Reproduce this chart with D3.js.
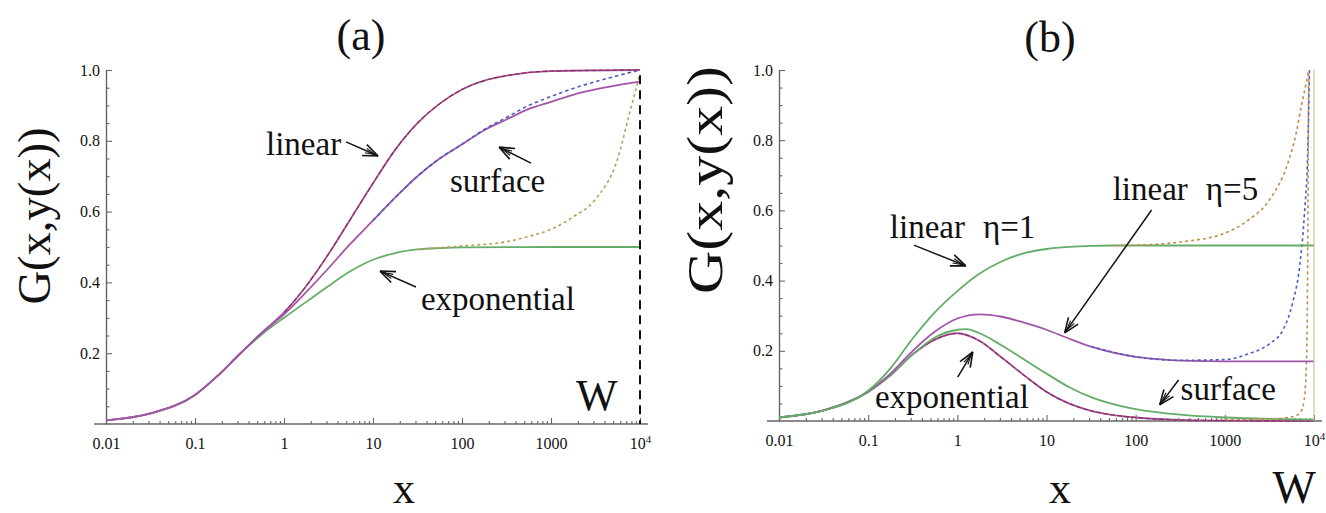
<!DOCTYPE html>
<html><head><meta charset="utf-8">
<script src="https://cdn.jsdelivr.net/npm/d3@7"></script>
<style>
body{margin:0;background:#fff}
svg{display:block}
text{font-family:"Liberation Serif","Times New Roman",serif;fill:#111}
</style>
</head><body>
<svg id="c" width="1326" height="513"></svg>
<script>
// ---- tick data ----
const xTicks = [0.01, 0.1, 1, 10, 100, 1000, 10000];
const xTickLabels = ["0.01", "0.1", "1", "10", "100", "1000", "10^4"];
const yTicks = [0.2, 0.4, 0.6, 0.8, 1.0];
const yTickLabels = ["0.2", "0.4", "0.6", "0.8", "1.0"];

// ---- panel (a) series: [x, G] ----
const linearA = [[0.01,0.01],[0.0316,0.03],[0.1,0.082],[0.178,0.135],[0.316,0.197],[0.562,0.258],[1,0.315],[1.78,0.39],[3.16,0.48],[5.62,0.58],[10,0.68],[17.8,0.775],[31.6,0.85],[56.2,0.905],[100,0.945],[178,0.97],[316,0.984],[1000,0.997],[10000,1.0]];
const surfaceA = [[0.01,0.01],[0.0316,0.03],[0.1,0.082],[0.178,0.135],[0.316,0.197],[0.562,0.257],[1,0.31],[1.78,0.373],[3.16,0.44],[5.62,0.51],[10,0.575],[17.8,0.64],[31.6,0.70],[56.2,0.75],[100,0.79],[178,0.83],[316,0.86],[562,0.89],[1000,0.91],[1778,0.93],[3162,0.945],[5623,0.957],[10000,0.967]];
const surfaceDotA = [[10,0.575],[17.8,0.64],[31.6,0.70],[56.2,0.75],[100,0.79],[178,0.832],[316,0.866],[562,0.9],[1000,0.925],[1778,0.948],[3162,0.967],[5623,0.984],[10000,1.0]];
const expA = [[0.01,0.01],[0.0316,0.03],[0.1,0.082],[0.178,0.135],[0.316,0.197],[0.562,0.253],[1,0.30],[1.78,0.345],[3.16,0.39],[5.62,0.432],[10,0.464],[17.8,0.483],[31.6,0.493],[56.2,0.497],[100,0.499],[1000,0.5],[10000,0.5]];
const expDotA = [[31.6,0.493],[100,0.503],[316,0.515],[562,0.53],[1000,0.55],[1778,0.585],[3162,0.635],[5623,0.75],[7500,0.87],[10000,0.99]];

// ---- panel (b) series ----
const linear1B = [[0.01,0.01],[0.0316,0.03],[0.1,0.086],[0.178,0.15],[0.316,0.235],[0.562,0.31],[1,0.37],[1.78,0.42],[3.16,0.455],[5.62,0.478],[10,0.49],[17.8,0.496],[31.6,0.499],[56.2,0.5],[10000,0.5]];
const linear1DotB = [[56.2,0.5],[100,0.501],[316,0.51],[1000,0.535],[1778,0.57],[3162,0.63],[5012,0.73],[6310,0.82],[7244,0.9],[8128,0.96],[8710,1.0]];
const linear5B = [[0.01,0.01],[0.0316,0.03],[0.1,0.084],[0.178,0.135],[0.316,0.2],[0.562,0.255],[1,0.292],[1.78,0.304],[3.16,0.297],[5.62,0.28],[10,0.26],[17.8,0.235],[31.6,0.212],[56.2,0.195],[100,0.183],[178,0.176],[316,0.172],[1000,0.17],[10000,0.17]];
const linear5DotB = [[31.6,0.212],[100,0.183],[316,0.173],[1000,0.175],[1778,0.19],[3162,0.22],[4500,0.26],[5750,0.336],[6900,0.44],[7760,0.58],[8500,0.77],[8900,1.0]];
const surfaceB = [[0.01,0.01],[0.0316,0.03],[0.1,0.083],[0.178,0.13],[0.316,0.19],[0.562,0.238],[1,0.26],[1.26,0.262],[1.78,0.25],[3.16,0.215],[5.62,0.175],[10,0.135],[17.8,0.097],[31.6,0.068],[56.2,0.048],[100,0.034],[316,0.018],[1000,0.01],[3162,0.006],[10000,0.004]];
const expB = [[0.01,0.01],[0.0316,0.03],[0.1,0.083],[0.178,0.13],[0.316,0.19],[0.562,0.232],[1,0.25],[1.78,0.228],[3.16,0.18],[5.62,0.13],[10,0.083],[17.8,0.05],[31.6,0.029],[56.2,0.017],[100,0.01],[316,0.003],[1000,0.001],[10000,0.0]];
const lowDotB = [[1000,0.004],[3162,0.006],[5012,0.01],[6310,0.015],[7080,0.025],[7762,0.06],[8300,0.2],[8710,1.0]];

// ---- annotations (data coordinates) ----
const annA = [
  {text:"linear", at:[0.628,0.76], from:[4.98,0.797], to:[11.4,0.757]},
  {text:"surface", at:[73.3,0.655], from:[596,0.737], to:[261,0.782]},
  {text:"exponential", at:[34.6,0.322], from:[30.4,0.387], to:[12.0,0.432]}
];
const annB = [
  {text:"linear", eta:"η=1", at:[0.175,0.521], from:[0.326,0.501], to:[1.245,0.442]},
  {text:"linear", eta:"η=5", at:[55.2,0.63], from:[151,0.601], to:[16.0,0.251]},
  {text:"exponential", at:[0.119,0.037], from:[1.01,0.125], to:[1.49,0.197]},
  {text:"surface", at:[319,0.06], from:[303,0.117], to:[186,0.046]}
];

const C = {purple:"#a355a8", maroon:"#8a2e4a", green:"#63ad68", blue:"#4a5cc0", tanA:"#b5a055", tanB:"#c48c4c"};

const svg = d3.select("#c");

function minorTicks(){
  const m=[];
  for(let e=-2;e<4;e++) for(let k=2;k<10;k++) m.push(k*Math.pow(10,e));
  return m;
}
function yMinor(){ const m=[]; for(let i=1;i<20;i++){ if(i%4!==0) m.push(i*0.05);} return m; }

function drawPanel(cfg){
  const g = svg.append("g");
  const x = d3.scaleLog().domain([0.01,10000]).range(cfg.xr);
  const y = d3.scaleLinear().domain([0,1]).range(cfg.yr);
  const y0 = cfg.yr[0];

  const xa = g.append("g").attr("transform",`translate(0,${y0})`)
    .call(d3.axisBottom(x).tickValues(xTicks).tickSize(-6).tickSizeOuter(0).tickPadding(14)
      .tickFormat((d,i)=>xTickLabels[i]));
  xa.select(".domain").remove();
  g.append("g").attr("transform",`translate(0,${y0})`)
    .call(d3.axisBottom(x).tickValues(minorTicks()).tickSize(-3).tickFormat(""))
    .select(".domain").remove();
  g.append("line").attr("x1",cfg.xr[0]-12).attr("x2",cfg.xr[1]+8).attr("y1",y0).attr("y2",y0)
    .attr("stroke","#666").attr("stroke-width",1.4);

  g.append("g").attr("transform",`translate(${cfg.xr[0]},0)`)
    .call(d3.axisLeft(y).tickValues(yTicks).tickSize(-6).tickSizeOuter(0).tickPadding(6)
      .tickFormat((d,i)=>yTickLabels[i]));
  g.append("g").attr("transform",`translate(${cfg.xr[0]},0)`)
    .call(d3.axisLeft(y).tickValues(yMinor()).tickSize(-3.5).tickFormat(""))
    .select(".domain").remove();

  g.selectAll(".tick line").attr("stroke","#666").attr("stroke-width",1.1);
  g.selectAll(".domain").attr("stroke","#666").attr("stroke-width",1.4);
  g.selectAll(".tick text").attr("font-size",cfg.tickFont).attr("fill","#333")
    .style("font-family",'"Liberation Serif",serif');
  xa.selectAll(".tick text").each(function(d,i){
    const t=xTickLabels[i];
    if(t.indexOf("^")>0){
      const p=t.split("^"); const s=d3.select(this); s.text(p[0]);
      s.append("tspan").attr("dy","-0.55em").attr("font-size",11).text(p[1]);
    }
  });

  const line = d3.line().x(d=>x(d[0])).y(d=>y(d[1])).curve(d3.curveMonotoneX);
  const plot = g.append("g");
  cfg.series.forEach(s=>{
    plot.append("path").attr("d",line(s.data)).attr("fill","none")
      .attr("stroke",s.color).attr("stroke-width",s.w||1.8)
      .attr("stroke-dasharray",s.dash||null);
  });

  cfg.ann.forEach(a=>{
    const t = g.append("text").attr("x",x(a.at[0])).attr("y",y(a.at[1])).attr("font-size",33).text(a.text);
    if(a.eta) t.append("tspan").attr("dx",18).text(a.eta);
    const x1=x(a.from[0]), y1=y(a.from[1]), x2=x(a.to[0]), y2=y(a.to[1]);
    g.append("line").attr("x1",x1).attr("y1",y1).attr("x2",x2).attr("y2",y2)
      .attr("stroke","#111").attr("stroke-width",1.5);
    const ang=Math.atan2(y2-y1,x2-x1), L=16, sp=0.38;
    [ang+Math.PI-sp, ang+Math.PI+sp].forEach(b=>{
      g.append("line").attr("x1",x2).attr("y1",y2)
        .attr("x2",x2+L*Math.cos(b)).attr("y2",y2+L*Math.sin(b))
        .attr("stroke","#111").attr("stroke-width",1.6);
    });
    [ang+Math.PI-sp*0.45, ang+Math.PI+sp*0.45].forEach(b=>{
      g.append("line").attr("x1",x2+3*Math.cos(ang+Math.PI)).attr("y1",y2+3*Math.sin(ang+Math.PI))
        .attr("x2",x2+L*0.85*Math.cos(b)).attr("y2",y2+L*0.85*Math.sin(b))
        .attr("stroke","#111").attr("stroke-width",1.1);
    });
  });

  g.append("text").attr("x",cfg.title[0]).attr("y",cfg.title[1]).attr("text-anchor","middle")
    .attr("font-size",44).text(cfg.titleText);
  g.append("text").attr("transform",`translate(${cfg.ylab[0]},${cfg.ylab[1]}) rotate(-90)`)
    .attr("text-anchor","middle").attr("dominant-baseline","central").attr("font-size",cfg.ylabFont)
    .attr("textLength",cfg.ylabLen).attr("lengthAdjust","spacingAndGlyphs").text("G(x,y(x))");
  g.append("text").attr("x",cfg.xlab[0]).attr("y",cfg.xlab[1]).attr("text-anchor","middle")
    .attr("font-size",44).text("x");
  return {g,x,y};
}

// Panel (a)
const A = drawPanel({
  xr:[106,640], yr:[424,70], title:[361,50], titleText:"(a)", ylab:[34,216], ylabFont:46, ylabLen:177,
  xlab:[404,503], tickFont:16,
  series:[
    {data:expA, color:C.green},
    {data:expDotA, color:C.tanA, dash:"3,3", w:1.6},
    {data:surfaceA, color:C.purple},
    {data:surfaceDotA, color:C.blue, dash:"3.5,3", w:1.6},
    {data:linearA, color:C.purple},
    {data:linearA.slice(6), color:C.maroon, dash:"5,2", w:1.1}
  ],
  ann:annA
});
A.g.append("line").attr("x1",A.x(10000)).attr("x2",A.x(10000)).attr("y1",A.y(0.985)).attr("y2",A.y(0))
  .attr("stroke","#111").attr("stroke-width",2).attr("stroke-dasharray","9,6");
A.g.append("text").attr("x",A.x(1910)).attr("y",A.y(0.04)).attr("font-size",44).text("W");

// Panel (b)
const B = drawPanel({
  xr:[779,1314], yr:[421,70], title:[1050,52], titleText:"(b)", ylab:[705,180], ylabFont:50, ylabLen:228,
  xlab:[1060,503], tickFont:16,
  series:[
    {data:expB, color:C.purple},
    {data:expB, color:C.maroon, dash:"5,2", w:1.1},
    {data:surfaceB, color:C.green},
    {data:lowDotB, color:C.tanB, dash:"3,3", w:1.6},
    {data:linear5B, color:C.purple},
    {data:linear5DotB, color:C.blue, dash:"3,3", w:1.6},
    {data:linear1B, color:C.green},
    {data:linear1DotB, color:C.tanB, dash:"3,3", w:1.6}
  ],
  ann:annB
});
B.g.append("line").attr("x1",B.x(10000)).attr("x2",B.x(10000)).attr("y1",B.y(1)).attr("y2",B.y(0))
  .attr("stroke","#c9b98a").attr("stroke-width",1);
B.g.append("text").attr("x",B.x(10000)+2).attr("y",503).attr("text-anchor","end").attr("font-size",46).text("W");
</script>
</body></html>
